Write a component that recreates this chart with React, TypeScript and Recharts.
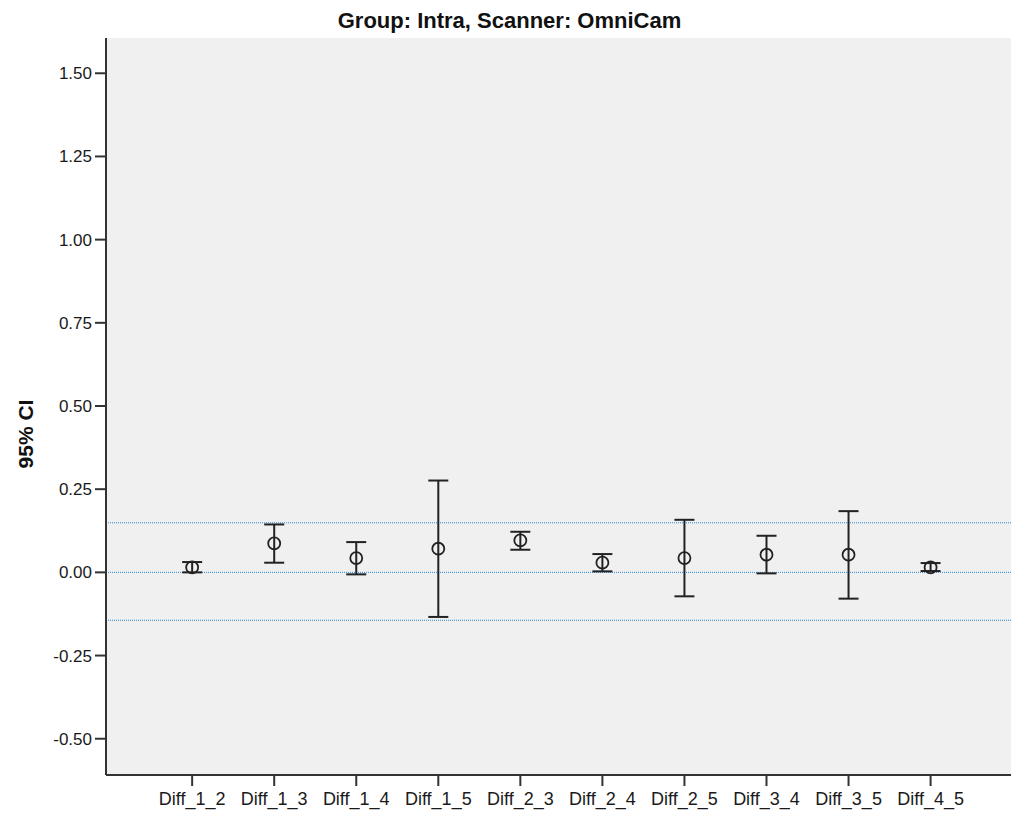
import React from 'react';
import { ComposedChart, Scatter, ErrorBar, XAxis, YAxis, CartesianGrid, ReferenceLine } from 'recharts';

// categories, mean and 95% CI bounds
const categories = ['Diff_1_2', 'Diff_1_3', 'Diff_1_4', 'Diff_1_5', 'Diff_2_3', 'Diff_2_4', 'Diff_2_5', 'Diff_3_4', 'Diff_3_5', 'Diff_4_5'];
const means = [0.015, 0.087, 0.043, 0.071, 0.096, 0.029, 0.043, 0.053, 0.053, 0.015];
const lower = [0.0, 0.029, -0.006, -0.134, 0.068, 0.003, -0.072, -0.003, -0.079, 0.004];
const upper = [0.031, 0.144, 0.091, 0.276, 0.122, 0.055, 0.158, 0.11, 0.184, 0.028];

const yTicks = [-0.5, -0.25, 0, 0.25, 0.5, 0.75, 1.0, 1.25, 1.5];
const refLines = [0.149, 0, -0.144];

const FONT = '"Liberation Sans", Arial, sans-serif';
const AXIS = '#333';

const data = categories.map((name, i) => ({
  idx: i + 1,
  name,
  mean: means[i],
  err: [means[i] - lower[i], upper[i] - means[i]],
}));

// hollow circle marker
function RingDot(props: any) {
  const { cx, cy } = props;
  if (cx == null || cy == null) return null;
  return <circle cx={cx} cy={cy} r={6} fill="none" stroke="#222" strokeWidth={1.8} />;
}

function YLabel(props: any) {
  const vb = props.viewBox || { x: 0, y: 38 };
  const x = vb.x + 25;
  const y = vb.y + 396;
  return (
    <text
      x={x}
      y={y}
      transform={`rotate(-90, ${x}, ${y})`}
      textAnchor="middle"
      dominantBaseline="central"
      fontFamily={FONT}
      fontWeight="bold"
      fontSize={21}
      fill="#111"
    >
      95% CI
    </text>
  );
}

export default function App() {
  return (
    <div style={{ position: 'absolute', left: 0, top: 0, width: 1011, height: 814, background: '#fff', fontFamily: FONT }}>
      <div
        style={{
          position: 'absolute',
          left: 4,
          top: 8,
          width: 1011,
          textAlign: 'center',
          fontSize: 22,
          lineHeight: '25px',
          fontWeight: 'bold',
          color: '#111',
        }}
      >
        Group: Intra, Scanner: OmniCam
      </div>
      <ComposedChart width={1011} height={814} data={data} margin={{ top: 38, right: 0, bottom: 0, left: 0 }}>
        <CartesianGrid fill="#f0f0f0" horizontal={false} vertical={false} />
        <XAxis
          xAxisId="top"
          orientation="top"
          type="number"
          dataKey="idx"
          domain={[-0.05, 10.98]}
          height={0}
          tick={false}
          tickLine={false}
          axisLine={{ stroke: AXIS, strokeWidth: 2 }}
        />
        <XAxis
          type="number"
          dataKey="idx"
          domain={[-0.05, 10.98]}
          ticks={categories.map((_, i) => i + 1)}
          tickFormatter={(v) => categories[Number(v) - 1] ?? ''}
          interval={0}
          height={39}
          tickSize={11}
          tickMargin={6}
          allowDataOverflow
          axisLine={{ stroke: AXIS, strokeWidth: 2 }}
          tickLine={{ stroke: AXIS, strokeWidth: 2 }}
          tick={{ fill: '#1a1a1a', fontSize: 18, fontFamily: FONT }}
        />
        <YAxis
          type="number"
          dataKey="mean"
          domain={[-0.609, 1.606]}
          ticks={yTicks}
          tickFormatter={(v) => Number(v).toFixed(2)}
          interval={0}
          width={106}
          tickSize={11}
          tickMargin={3}
          allowDataOverflow
          axisLine={{ stroke: AXIS, strokeWidth: 2 }}
          tickLine={{ stroke: AXIS, strokeWidth: 2 }}
          tick={{ fill: '#1a1a1a', fontSize: 17, fontFamily: FONT }}
          label={<YLabel />}
        />
        {refLines.map((v) => (
          <ReferenceLine key={v} y={v} stroke="#2b87d1" strokeWidth={1} strokeDasharray="1 1" />
        ))}
        <Scatter dataKey="mean" shape={<RingDot />} isAnimationActive={false}>
          <ErrorBar dataKey="err" direction="y" width={10} stroke="#222" strokeWidth={2} isAnimationActive={false} />
        </Scatter>
      </ComposedChart>
    </div>
  );
}
